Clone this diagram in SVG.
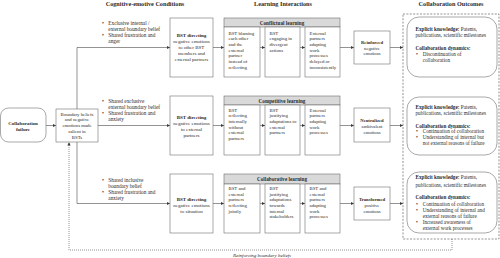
<svg xmlns="http://www.w3.org/2000/svg" width="500" height="258" viewBox="0 0 500 258">
<style>
text{font-family:"Liberation Serif","Times New Roman",serif;fill:#2b2b2b}
.h{font-size:6.2px;font-weight:bold}
.b{font-weight:bold}
.c{font-size:5.3px}
.s{font-size:4.8px}
.m{font-size:5px}
.o{font-size:5.2px}
.e{font-size:4.7px}
.bx{fill:#fff;stroke:#6e6e6e;stroke-width:0.6}
.hd{fill:#d9d9d9;stroke:#6e6e6e;stroke-width:0.6}
.ln{fill:none;stroke:#4a4a4a;stroke-width:0.6}
.dot{fill:none;stroke:#4a4a4a;stroke-width:0.6;stroke-dasharray:1 1}
.dash{fill:none;stroke:#4a4a4a;stroke-width:0.6;stroke-dasharray:2 1.4}
.mid{text-anchor:middle}
</style>
<defs>
<marker id="ar" viewBox="0 0 10 10" refX="10" refY="5" markerUnits="userSpaceOnUse" markerWidth="3.2" markerHeight="3.2" orient="auto">
<path d="M0,0 L10,5 L0,10 z" fill="#3a3a3a"/>
</marker>
</defs>

<g id="headers">
<text class="h mid" x="145" y="6">Cognitive-emotive Conditions</text>
<text class="h mid" x="283" y="6">Learning Interactions</text>
<text class="h mid" x="451" y="6">Collaboration Outcomes</text>
</g>

<g id="outcomes-frame">
<rect class="dash" x="403" y="14" width="96" height="225"/>
</g>

<g id="connectors">
<line class="ln" x1="46" y1="125.5" x2="56" y2="125.5" marker-end="url(#ar)"/>
<polyline class="ln" points="77,109 77,47.5 170,47.5" marker-end="url(#ar)"/>
<line class="ln" x1="98" y1="125.5" x2="170" y2="125.5" marker-end="url(#ar)"/>
<polyline class="ln" points="77,142 77,203.5 170,203.5" marker-end="url(#ar)"/>
<line class="ln" x1="213" y1="47.5" x2="224" y2="47.5" marker-end="url(#ar)"/>
<line class="ln" x1="213" y1="125.5" x2="224" y2="125.5" marker-end="url(#ar)"/>
<line class="ln" x1="213" y1="203.5" x2="224" y2="203.5" marker-end="url(#ar)"/>
<line class="ln" x1="260" y1="47.5" x2="265" y2="47.5" marker-end="url(#ar)"/>
<line class="ln" x1="300" y1="47.5" x2="305" y2="47.5" marker-end="url(#ar)"/>
<line class="ln" x1="260" y1="125.5" x2="265" y2="125.5" marker-end="url(#ar)"/>
<line class="ln" x1="300" y1="125.5" x2="305" y2="125.5" marker-end="url(#ar)"/>
<line class="ln" x1="260" y1="203.5" x2="265" y2="203.5" marker-end="url(#ar)"/>
<line class="ln" x1="300" y1="203.5" x2="305" y2="203.5" marker-end="url(#ar)"/>
<line class="ln" x1="340" y1="47.5" x2="354" y2="47.5" marker-end="url(#ar)"/>
<line class="ln" x1="340" y1="125.5" x2="354" y2="125.5" marker-end="url(#ar)"/>
<line class="ln" x1="340" y1="203.5" x2="354" y2="203.5" marker-end="url(#ar)"/>
<line class="ln" x1="390" y1="47.5" x2="403" y2="47.5" marker-end="url(#ar)"/>
<line class="ln" x1="390" y1="125.5" x2="403" y2="125.5" marker-end="url(#ar)"/>
<line class="ln" x1="390" y1="203.5" x2="403" y2="203.5" marker-end="url(#ar)"/>
<polyline class="dot" points="452,239 452,250 69,250 69,142.3" marker-end="url(#ar)"/>
<text class="m mid" x="262" y="257" font-style="italic">Reinforcing boundary beliefs</text>
</g>

<g id="collaboration-failure">
<rect class="bx" x="0.5" y="108" width="45.5" height="34" rx="8"/>
<text class="m b mid" x="23" y="124.5">Collaboration</text>
<text class="m b mid" x="23" y="130.7">failure</text>
</g>

<g id="boundary-beliefs">
<rect class="bx" x="56" y="109" width="42" height="33"/>
<text class="s mid" x="77"><tspan x="77" y="115.5">Boundary beliefs</tspan><tspan x="77" y="121.3">and negative</tspan><tspan x="77" y="127.1">emotions made</tspan><tspan x="77" y="132.9">salient in</tspan><tspan x="77" y="138.7">BSTs</tspan></text>
</g>

<g id="condition-1">
<text class="c" x="102" y="24.5">•</text>
<text class="c" x="102" y="36.9">•</text>
<text class="c"><tspan x="108.3" y="24.5">Exclusive internal /</tspan><tspan x="108.3" y="30.7">external boundary belief</tspan><tspan x="108.3" y="36.9">Shared frustration and</tspan><tspan x="108.3" y="43.1">anger</tspan></text>
</g>
<g id="condition-2">
<text class="c" x="102" y="102.5">•</text>
<text class="c" x="102" y="114.9">•</text>
<text class="c"><tspan x="108.3" y="102.5">Shared exclusive</tspan><tspan x="108.3" y="108.7">external boundary belief</tspan><tspan x="108.3" y="114.9">Shared frustration and</tspan><tspan x="108.3" y="121.1">anxiety</tspan></text>
</g>
<g id="condition-3">
<text class="c" x="102" y="181.5">•</text>
<text class="c" x="102" y="193.9">•</text>
<text class="c"><tspan x="108.3" y="181.5">Shared inclusive</tspan><tspan x="108.3" y="187.7">boundary belief</tspan><tspan x="108.3" y="193.9">Shared frustration and</tspan><tspan x="108.3" y="200.1">anxiety</tspan></text>
</g>

<g id="bst-1">
<rect class="bx" x="170" y="18" width="43" height="59"/>
<text class="m mid"><tspan class="b" x="191.5" y="36.5">BST directing</tspan><tspan x="191.5" y="43">negative emotions</tspan><tspan x="191.5" y="49">to other BST</tspan><tspan x="191.5" y="55">members and</tspan><tspan x="191.5" y="61">external partners</tspan></text>
</g>
<g id="bst-2">
<rect class="bx" x="170" y="96" width="43" height="59"/>
<text class="m mid"><tspan class="b" x="191.5" y="119">BST directing</tspan><tspan x="191.5" y="125.2">negative emotions</tspan><tspan x="191.5" y="131.2">to external</tspan><tspan x="191.5" y="137.2">partners</tspan></text>
</g>
<g id="bst-3">
<rect class="bx" x="170" y="174" width="43" height="59"/>
<text class="m mid"><tspan class="b" x="191.5" y="200.5">BST directing</tspan><tspan x="191.5" y="206.5">negative emotions</tspan><tspan x="191.5" y="212.5">to situation</tspan></text>
</g>

<g id="conflictual-learning">
<rect class="hd" x="224" y="18" width="116" height="9"/>
<text class="o b mid" x="282" y="24.6">Conflictual learning</text>
<rect class="bx" x="224" y="27" width="36" height="50"/>
<rect class="bx" x="265" y="27" width="35" height="50"/>
<rect class="bx" x="305" y="27" width="35" height="50"/>
<text class="s"><tspan x="228.5" y="34.8">BST blaming</tspan><tspan x="228.5" y="40.45">each other</tspan><tspan x="228.5" y="46.1">and the</tspan><tspan x="228.5" y="51.75">external</tspan><tspan x="228.5" y="57.4">partner</tspan><tspan x="228.5" y="63.05">instead of</tspan><tspan x="228.5" y="68.7">reflecting</tspan></text>
<text class="s"><tspan x="269.5" y="34.8">BST</tspan><tspan x="269.5" y="40.45">engaging in</tspan><tspan x="269.5" y="46.1">divergent</tspan><tspan x="269.5" y="51.75">actions</tspan></text>
<text class="s"><tspan x="309.5" y="34.8">External</tspan><tspan x="309.5" y="40.45">partners</tspan><tspan x="309.5" y="46.1">adapting</tspan><tspan x="309.5" y="51.75">work</tspan><tspan x="309.5" y="57.4">processes</tspan><tspan x="309.5" y="63.05">delayed or</tspan><tspan x="309.5" y="68.7">inconsistently</tspan></text>
</g>

<g id="competitive-learning">
<rect class="hd" x="224" y="96" width="116" height="9"/>
<text class="o b mid" x="282" y="102.6">Competitive learning</text>
<rect class="bx" x="224" y="105" width="36" height="50"/>
<rect class="bx" x="265" y="105" width="35" height="50"/>
<rect class="bx" x="305" y="105" width="35" height="50"/>
<text class="s"><tspan x="228.5" y="111.8">BST</tspan><tspan x="228.5" y="117.45">reflecting</tspan><tspan x="228.5" y="123.1">internally</tspan><tspan x="228.5" y="128.75">without</tspan><tspan x="228.5" y="134.4">external</tspan><tspan x="228.5" y="140.05">partners</tspan></text>
<text class="s"><tspan x="269.5" y="111.8">BST</tspan><tspan x="269.5" y="117.45">justifying</tspan><tspan x="269.5" y="123.1">adaptations to</tspan><tspan x="269.5" y="128.75">external</tspan><tspan x="269.5" y="134.4">partners</tspan></text>
<text class="s"><tspan x="309.5" y="111.8">External</tspan><tspan x="309.5" y="117.45">partners</tspan><tspan x="309.5" y="123.1">adapting</tspan><tspan x="309.5" y="128.75">work</tspan><tspan x="309.5" y="134.4">processes</tspan></text>
</g>

<g id="collaborative-learning">
<rect class="hd" x="224" y="174" width="116" height="10"/>
<text class="o b mid" x="282" y="181.2">Collaborative learning</text>
<rect class="bx" x="224" y="184" width="36" height="49"/>
<rect class="bx" x="265" y="184" width="35" height="49"/>
<rect class="bx" x="305" y="184" width="35" height="49"/>
<text class="s"><tspan x="228.5" y="189.8">BST and</tspan><tspan x="228.5" y="195.5">external</tspan><tspan x="228.5" y="201.2">partners</tspan><tspan x="228.5" y="206.9">reflecting</tspan><tspan x="228.5" y="212.6">jointly</tspan></text>
<text class="s"><tspan x="269.5" y="189.8">BST</tspan><tspan x="269.5" y="195.5">justifying</tspan><tspan x="269.5" y="201.2">adaptations</tspan><tspan x="269.5" y="206.9">towards</tspan><tspan x="269.5" y="212.6">internal</tspan><tspan x="269.5" y="218.3">stakeholders</tspan></text>
<text class="s"><tspan x="309.5" y="189.8">BST and</tspan><tspan x="309.5" y="195.5">external</tspan><tspan x="309.5" y="201.2">partners</tspan><tspan x="309.5" y="206.9">adapting</tspan><tspan x="309.5" y="212.6">work</tspan><tspan x="309.5" y="218.3">processes</tspan></text>
</g>

<g id="emotion-1">
<rect class="bx" x="354" y="31" width="36" height="33"/>
<text class="e mid"><tspan class="b" x="372" y="43.5">Reinforced</tspan><tspan x="372" y="49.5">negative</tspan><tspan x="372" y="55.3">emotions</tspan></text>
</g>
<g id="emotion-2">
<rect class="bx" x="354" y="108" width="36" height="34"/>
<text class="e mid"><tspan class="b" x="372" y="121.5">Neutralized</tspan><tspan x="372" y="127.5">ambivalent</tspan><tspan x="372" y="133.5">emotions</tspan></text>
</g>
<g id="emotion-3">
<rect class="bx" x="354" y="187" width="36" height="33"/>
<text class="e mid"><tspan class="b" x="372" y="200.5">Transformed</tspan><tspan x="372" y="206.5">positive</tspan><tspan x="372" y="212.5">emotions</tspan></text>
</g>

<g id="outcome-1">
<rect class="bx" x="407" y="17" width="90" height="60" rx="12"/>
<text class="o"><tspan x="415.5" y="31"><tspan class="b">Explicit knowledge:</tspan> Patents,</tspan><tspan x="415.5" y="36.8">publications, scientific milestones</tspan><tspan class="b" x="415.5" y="49.8">Collaboration dynamics:</tspan><tspan x="422.7" y="55.6">Discontinuation of</tspan><tspan x="422.7" y="61.8">collaboration</tspan></text>
<text class="o" x="416" y="55.6">•</text>
</g>
<g id="outcome-2">
<rect class="bx" x="407" y="97" width="90" height="58" rx="12"/>
<text class="o"><tspan x="415.5" y="108.8"><tspan class="b">Explicit knowledge:</tspan> Patents,</tspan><tspan x="415.5" y="114.8">publications, scientific milestones</tspan><tspan class="b" x="415.5" y="127.8">Collaboration dynamics:</tspan><tspan x="422.7" y="133.4">Continuation of collaboration</tspan><tspan x="422.7" y="139.2">Understanding of internal but</tspan><tspan x="422.7" y="145">not external reasons of failure</tspan></text>
<text class="o" x="416" y="133.4">•</text>
<text class="o" x="416" y="139.2">•</text>
</g>
<g id="outcome-3">
<rect class="bx" x="407" y="172" width="90" height="61" rx="12"/>
<text class="o"><tspan x="415.5" y="179"><tspan class="b">Explicit knowledge:</tspan> Patents,</tspan><tspan x="415.5" y="186.5">publications, scientific milestones</tspan><tspan class="b" x="415.5" y="199.2">Collaboration dynamics:</tspan><tspan x="422.7" y="205.5">Continuation of collaboration</tspan><tspan x="422.7" y="211.6">Understanding of internal and</tspan><tspan x="422.7" y="217.7">external reasons of failure</tspan><tspan x="422.7" y="224">Increased awareness of</tspan><tspan x="422.7" y="230.2">external work processes</tspan></text>
<text class="o" x="416" y="205.5">•</text>
<text class="o" x="416" y="211.6">•</text>
<text class="o" x="416" y="224">•</text>
</g>
</svg>
